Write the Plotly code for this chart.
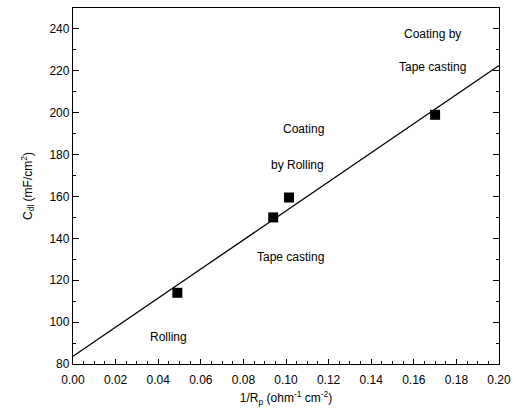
import numpy as np
import plotly.graph_objects as go

# Measured double-layer capacitance vs. inverse polarisation resistance
inv_rp = [0.049, 0.094, 0.1014, 0.170]
c_dl = [114, 150, 159.5, 199]

# Process labels placed beside the points
label_text = ["Coating by", "Tape casting", "Coating", "by Rolling", "Tape casting", "Rolling"]
label_x = [0.169, 0.169, 0.108, 0.1056, 0.102, 0.045]
label_y = [237.6, 222.0, 192.0, 175.0, 131.0, 93.0]

x_ticks = [0.00, 0.02, 0.04, 0.06, 0.08, 0.10, 0.12, 0.14, 0.16, 0.18, 0.20]
y_ticks = [80, 100, 120, 140, 160, 180, 200, 220, 240]

# Least-squares straight line through the measurements
slope, intercept = np.polyfit(inv_rp, c_dl, 1)
fit_x = np.array([0.0, 0.20])
fit_y = intercept + slope * fit_x

fig = go.Figure()
fig.add_trace(go.Scatter(x=fit_x, y=fit_y, mode="lines",
                         line=dict(color="black", width=1.3), showlegend=False))
fig.add_trace(go.Scatter(x=inv_rp, y=c_dl, mode="markers",
                         marker=dict(symbol="square", size=10, color="black"),
                         showlegend=False))

for t, x, y in zip(label_text, label_x, label_y):
    fig.add_annotation(x=x, y=y, text=t, showarrow=False,
                       font=dict(family="Liberation Sans, Arial", size=12, color="black"))

fig.update_layout(
    width=518, height=415,
    margin=dict(l=73, r=13, t=7, b=51),
    paper_bgcolor="white", plot_bgcolor="white",
    font=dict(family="Liberation Sans, Arial", size=12, color="black"),
)
fig.update_xaxes(
    range=[0, 0.20], tickvals=x_ticks, ticktext=[f"{v:.2f}" for v in x_ticks],
    ticks="inside", ticklen=5, tickwidth=1, tickcolor="black",
    ticklabelstandoff=4,
    minor=dict(dtick=0.005, ticks="inside", ticklen=3, tickcolor="black"),
    showline=True, linecolor="black", linewidth=1.3, mirror=True,
    showgrid=False, zeroline=False,
    title=dict(text="1/R<sub>p</sub> (ohm<sup>-1</sup> cm<sup>-2</sup>)",
               font=dict(size=12), standoff=8),
)
fig.update_yaxes(
    range=[80, 250], tickvals=y_ticks,
    ticks="inside", ticklen=6, tickwidth=1, tickcolor="black",
    minor=dict(dtick=10, ticks="inside", ticklen=3, tickcolor="black"),
    showline=True, linecolor="black", linewidth=1.3, mirror="ticks",
    showgrid=False, zeroline=False,
    title=dict(text="C<sub>dl</sub> (mF/cm<sup>2</sup>)", font=dict(size=12), standoff=14),
)

fig.write_html("out.html")
